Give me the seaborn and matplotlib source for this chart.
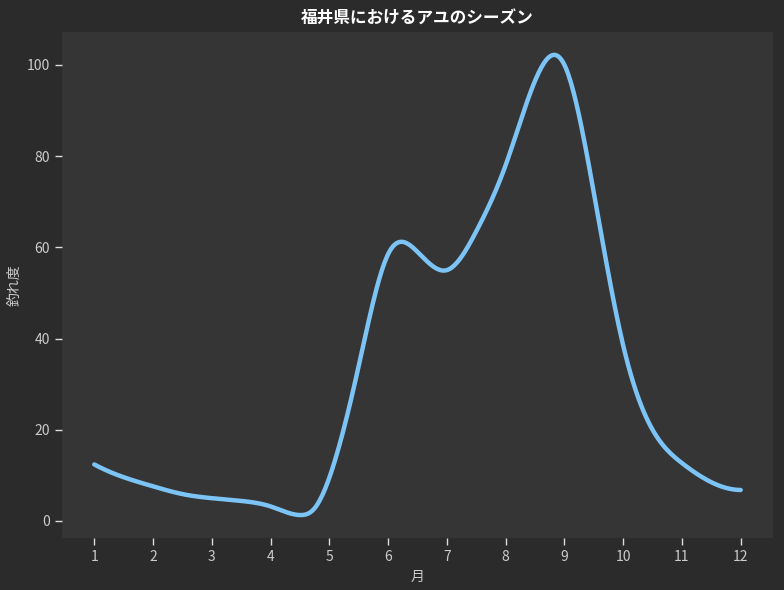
import numpy as np
import pandas as pd
import matplotlib
matplotlib.use("Agg")
import matplotlib.pyplot as plt
import seaborn as sns

months = [1, 1.5, 2, 2.5, 3, 3.5, 4, 4.5, 4.75, 5, 5.5, 6, 6.5,
          7, 7.5, 8, 8.5, 9, 9.5, 10, 10.5, 11, 11.5, 12]
score = [12.4, 9.6, 7.6, 5.9, 5.0, 4.4, 3.2, 1.3, 2.8, 9.5, 34.0, 58.5, 59.0,
         55.0, 63.5, 78.0, 96.5, 100.0, 72.0, 38.5, 20.0, 12.7, 8.5, 6.8]
month_ticks = [1, 2, 3, 4, 5, 6, 7, 8, 9, 10, 11, 12]
title = "福井県におけるアユのシーズン"
xlabel = "月"
ylabel = "釣れ度"


def not_a_knot_spline(x, y, xs):
    x = np.asarray(x, float)
    y = np.asarray(y, float)
    n = len(x)
    m = n - 1
    A = np.zeros((4 * m, 4 * m))
    b = np.zeros(4 * m)
    r = 0
    for i in range(m):
        h = x[i + 1] - x[i]
        A[r, 4 * i] = 1; b[r] = y[i]; r += 1
        A[r, 4 * i:4 * i + 4] = [1, h, h * h, h ** 3]; b[r] = y[i + 1]; r += 1
    for i in range(m - 1):
        h = x[i + 1] - x[i]
        A[r, 4 * i:4 * i + 4] = [0, 1, 2 * h, 3 * h * h]; A[r, 4 * (i + 1) + 1] = -1; r += 1
        A[r, 4 * i:4 * i + 4] = [0, 0, 2, 6 * h]; A[r, 4 * (i + 1) + 2] = -2; r += 1
    A[r, 3] = 1; A[r, 7] = -1; r += 1
    A[r, 4 * (m - 2) + 3] = 1; A[r, 4 * (m - 1) + 3] = -1; r += 1
    c = np.linalg.solve(A, b).reshape(m, 4)
    idx = np.clip(np.searchsorted(x, xs, side="right") - 1, 0, m - 1)
    t = xs - x[idx]
    return c[idx, 0] + c[idx, 1] * t + c[idx, 2] * t ** 2 + c[idx, 3] * t ** 3


xs = np.linspace(min(months), max(months), 500)
ys = not_a_knot_spline(months, score, xs)
df = pd.DataFrame({"月": xs, "釣れ度": ys})

sns.set_theme(style="dark")
plt.rcParams["font.family"] = ["Noto Sans CJK JP", "DejaVu Sans"]

fig, ax = plt.subplots(figsize=(7.84, 5.9), dpi=100)
fig.patch.set_facecolor("#2b2b2b")
ax.set_facecolor("#353535")
fig.subplots_adjust(left=0.079, right=0.986, top=0.946, bottom=0.088)

sns.lineplot(data=df, x="月", y="釣れ度", ax=ax, color="#7cc4f5", linewidth=3.2)

ax.set_xticks(month_ticks)
ax.set_xticklabels([str(m) for m in month_ticks])
for s in ax.spines.values():
    s.set_visible(False)
ax.grid(False)
ax.tick_params(axis="both", colors="#dddddd", labelcolor="#cccccc", labelsize=10,
               length=5, width=1, bottom=True, left=True)
ax.set_xlabel(xlabel, color="#cccccc", fontsize=10)
ax.set_ylabel(ylabel, color="#cccccc", fontsize=10)
ax.set_title(title, color="white", fontsize=12, fontweight="bold")

fig.savefig("out.png", dpi=100, facecolor=fig.get_facecolor())
